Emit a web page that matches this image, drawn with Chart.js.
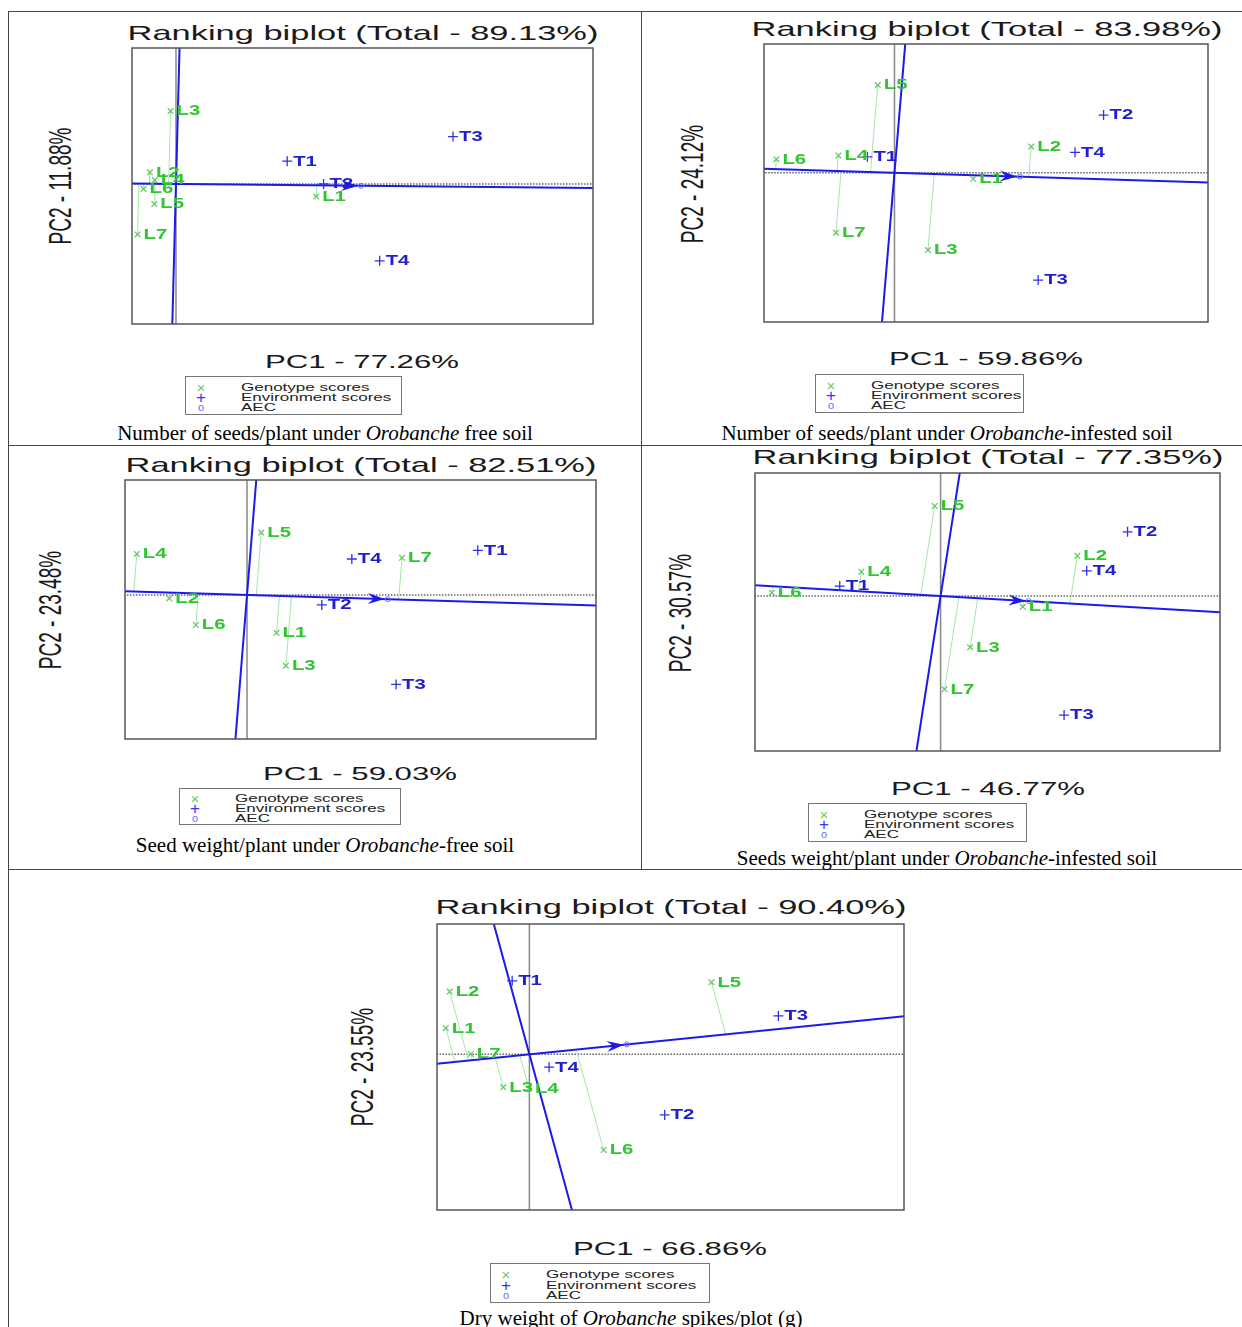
<!DOCTYPE html>
<html>
<head>
<meta charset="utf-8">
<title>Ranking biplots</title>
<script src="https://cdn.jsdelivr.net/npm/chart.js@4.4.1/dist/chart.umd.min.js"></script>
<style>
  html, body { margin: 0; padding: 0; background: #fff; }
  #stage { position: relative; width: 1242px; height: 1327px; overflow: hidden; background: #fff; }
  .rule { position: absolute; background: #444; }
  .gfx { position: absolute; white-space: nowrap; line-height: 1; color: #1a1a1a;
         font-family: "Liberation Sans", Arial, Helvetica, sans-serif; }
  .cap { position: absolute; white-space: nowrap; line-height: 1; color: #000;
         font-family: "Liberation Serif", "Times New Roman", serif; font-size: 21px;
         transform: translate(-50%, -50%); }
  .legend { position: absolute; border: 1px solid #777; background: #fff; box-sizing: border-box; }
  .legend span { position: absolute; white-space: nowrap; line-height: 1;
         font-family: "Liberation Sans", Arial, sans-serif; }
  canvas { position: absolute; }
</style>
</head>
<body>
<div id="stage"></div>
<script>
const genotypes = ['L1', 'L2', 'L3', 'L4', 'L5', 'L6', 'L7'];
const environments = ['T1', 'T2', 'T3', 'T4'];

// number of seeds/plant, Orobanche free soil
const seedsFreeGenX = [2.85, -0.53, -0.11, -0.43, -0.44, -0.66, -0.78];
const seedsFreeGenY = [-0.42, 0.39, 2.43, 0.13, -0.67, -0.17, -1.68];
const seedsFreeEnvX = [2.26, 3.00, 5.63, 4.14];
const seedsFreeEnvY = [0.76, 0.00, 1.58, -2.56];
const seedsFreeAec = [3.76, -0.06];

// number of seeds/plant, Orobanche-infested soil
const seedsInfGenX = [1.60, 2.78, 0.68, -1.14, -0.34, -2.40, -1.19];
const seedsInfGenY = [-0.21, 0.87, -2.58, 0.57, 2.92, 0.45, -2.00];
const seedsInfEnvX = [-0.55, 4.25, 2.92, 3.67];
const seedsInfEnvY = [0.53, 1.92, -3.58, 0.68];
const seedsInfAec = [2.55, -0.13];

// seed weight/plant, Orobanche-free soil
const weightFreeGenX = [0.60, -1.58, 0.79, -2.24, 0.29, -1.04, 3.15];
const weightFreeGenY = [-1.26, -0.11, -2.36, 1.37, 2.08, -1.00, 1.24];
const weightFreeEnvX = [4.69, 1.52, 3.03, 2.13];
const weightFreeEnvY = [1.49, -0.33, -2.98, 1.20];
const weightFreeAec = [2.86, -0.14];

// seeds weight/plant, Orobanche-infested soil
const weightInfGenX = [1.67, 2.78, 0.60, -1.61, -0.12, -3.43, 0.08];
const weightInfGenY = [-0.36, 1.34, -1.71, 0.81, 3.00, 0.11, -3.11];
const weightInfEnvX = [-2.05, 3.80, 2.51, 2.97];
const weightInfEnvY = [0.33, 2.14, -3.97, 0.84];
const weightInfAec = [1.79, -0.17];

// dry weight of Orobanche spikes/plot
const spikesGenX = [-1.70, -1.62, -0.53, -0.01, 3.70, 1.51, -1.19];
const spikesGenY = [0.87, 2.09, -1.10, -1.13, 2.40, -3.19, 0.01];
const spikesEnvX = [-0.35, 2.75, 5.06, 0.40];
const spikesEnvY = [2.45, -2.02, 1.28, -0.43];
const spikesAec = [1.98, 0.33];

const legendItems = ['Genotype scores', 'Environment scores', 'AEC'];

const panels = [
    {
        title: 'Ranking biplot (Total - 89.13%)', xTitle: 'PC1 - 77.26%', yTitle: 'PC2 - 11.88%',
        caption: 'Number of seeds/plant under <i>Orobanche</i> free soil',
        genX: seedsFreeGenX, genY: seedsFreeGenY, envX: seedsFreeEnvX, envY: seedsFreeEnvY, aec: seedsFreeAec,
        xRange: [-0.894, 8.476], yRange: [-4.667, 4.533],
        box: [132, 48, 461, 276], titleAt: [363, 32], xTitleAt: [362, 361], yTitleAt: [59.5, 186],
        legend: [185, 376, 217, 39], captionAt: [325, 433]
    },
    {
        title: 'Ranking biplot (Total - 83.98%)', xTitle: 'PC1 - 59.86%', yTitle: 'PC2 - 24.12%',
        caption: 'Number of seeds/plant under <i>Orobanche</i>-infested soil',
        genX: seedsInfGenX, genY: seedsInfGenY, envX: seedsInfEnvX, envY: seedsInfEnvY, aec: seedsInfAec,
        xRange: [-2.652, 6.372], yRange: [-4.977, 4.29],
        box: [764, 44, 444, 278], titleAt: [987, 28], xTitleAt: [986, 358], yTitleAt: [692, 184],
        legend: [815, 374, 209, 39], captionAt: [947, 433]
    },
    {
        title: 'Ranking biplot (Total - 82.51%)', xTitle: 'PC1 - 59.03%', yTitle: 'PC2 - 23.48%',
        caption: 'Seed weight/plant under <i>Orobanche</i>-free soil',
        genX: weightFreeGenX, genY: weightFreeGenY, envX: weightFreeEnvX, envY: weightFreeEnvY, aec: weightFreeAec,
        xRange: [-2.48, 7.093], yRange: [-4.8, 3.833],
        box: [125, 480, 471, 259], titleAt: [361, 464], xTitleAt: [360, 773], yTitleAt: [50, 610],
        legend: [179, 788, 222, 37], captionAt: [325, 845]
    },
    {
        title: 'Ranking biplot (Total - 77.35%)', xTitle: 'PC1 - 46.77%', yTitle: 'PC2 - 30.57%',
        caption: 'Seeds weight/plant under <i>Orobanche</i>-infested soil',
        genX: weightInfGenX, genY: weightInfGenY, envX: weightInfEnvX, envY: weightInfEnvY, aec: weightInfAec,
        xRange: [-3.772, 5.679], yRange: [-5.167, 4.1],
        box: [755, 473, 465, 278], titleAt: [988, 456], xTitleAt: [988, 788], yTitleAt: [679.5, 612.5],
        legend: [808, 803, 219, 39], captionAt: [947, 858]
    },
    {
        title: 'Ranking biplot (Total - 90.40%)', xTitle: 'PC1 - 66.86%', yTitle: 'PC2 - 23.55%',
        caption: 'Dry weight of <i>Orobanche</i> spikes/plot (g)',
        genX: spikesGenX, genY: spikesGenY, envX: spikesEnvX, envY: spikesEnvY, aec: spikesAec,
        xRange: [-1.878, 7.614], yRange: [-5.19, 4.343],
        box: [437, 924, 467, 286], titleAt: [671, 906], xTitleAt: [670, 1247.5], yTitleAt: [361.5, 1067],
        legend: [490, 1263, 220, 40], captionAt: [631, 1318]
    }
];

const stage = document.getElementById('stage');

function rule(x, y, w, h) {
    const d = document.createElement('div');
    d.className = 'rule';
    d.style.cssText = `left:${x}px;top:${y}px;width:${w}px;height:${h}px`;
    stage.appendChild(d);
}
// table frame round the five figures
rule(8, 11, 1234, 1);
rule(8, 11, 1, 1316);
rule(641, 11, 1, 858);
rule(8, 445, 1234, 1);
rule(8, 869, 1234, 1);

function text(str, at, size, transform) {
    const d = document.createElement('div');
    d.className = 'gfx';
    d.textContent = str;
    d.style.left = at[0] + 'px';
    d.style.top = at[1] + 'px';
    d.style.fontSize = size + 'px';
    d.style.transform = transform;
    stage.appendChild(d);
}

// arrow head, labels and frame on top of the datasets
const biplotPlugin = {
    id: 'biplot',
    afterDatasetsDraw(chart) {
        const ctx = chart.ctx;
        const area = chart.chartArea;
        const xs = chart.scales.x, ys = chart.scales.y;
        const aec = chart.options.plugins.biplot.aec;

        const ox = xs.getPixelForValue(0), oy = ys.getPixelForValue(0);
        const ax = xs.getPixelForValue(aec[0]), ay = ys.getPixelForValue(aec[1]);
        let dx = ax - ox, dy = ay - oy;
        const len = Math.hypot(dx, dy);
        dx /= len; dy /= len;
        const nx = -dy, ny = dx;
        const tx = ax - 3 * dx, ty = ay - 3 * dy;
        ctx.save();
        ctx.fillStyle = '#1a1aee';
        ctx.beginPath();
        ctx.moveTo(tx, ty);
        ctx.lineTo(tx - 17 * dx + 5.5 * nx, ty - 17 * dy + 5.5 * ny);
        ctx.lineTo(tx - 11 * dx, ty - 11 * dy);
        ctx.lineTo(tx - 17 * dx - 5.5 * nx, ty - 17 * dy - 5.5 * ny);
        ctx.closePath();
        ctx.fill();
        ctx.restore();

        chart.data.datasets.forEach((ds, i) => {
            if (!ds.pointNames) return;
            const meta = chart.getDatasetMeta(i);
            ctx.save();
            ctx.font = 'bold 14px "Liberation Sans", Arial, sans-serif';
            ctx.textBaseline = 'middle';
            ctx.textAlign = 'left';
            ctx.fillStyle = ds.labelColor;
            meta.data.forEach((pt, j) => {
                ctx.save();
                ctx.translate(pt.x + 6, pt.y + 0.5);
                ctx.scale(1.45, 1);
                ctx.fillText(ds.pointNames[j], 0, 0);
                ctx.restore();
            });
            ctx.restore();
        });

        ctx.save();
        ctx.strokeStyle = '#555';
        ctx.lineWidth = 1.5;
        ctx.strokeRect(area.left, area.top, area.right - area.left, area.bottom - area.top);
        ctx.restore();
    }
};

function makePanel(p) {
    text(p.title, p.titleAt, 21, 'translate(-50%,-50%) scaleX(1.64)');
    text(p.xTitle, p.xTitleAt, 19, 'translate(-50%,-50%) scaleX(1.64)');
    text(p.yTitle, p.yTitleAt, 19, 'translate(-50%,-50%) rotate(-90deg) scaleY(1.64)');

    const lg = document.createElement('div');
    lg.className = 'legend';
    lg.style.cssText = `left:${p.legend[0]}px;top:${p.legend[1]}px;width:${p.legend[2]}px;height:${p.legend[3]}px`;
    const rowH = (p.legend[3] - 8) / 3;
    const marks = [['\u00d7', '#66cc66', 15], ['+', '#3333ff', 17], ['o', '#6b6bff', 11]];
    legendItems.forEach((item, k) => {
        const cy = 4.5 + rowH * (k + 0.5);
        const m = document.createElement('span');
        m.textContent = marks[k][0];
        m.style.cssText = `left:15px;top:${cy}px;color:${marks[k][1]};font-size:${marks[k][2]}px;transform:translate(-50%,-50%)`;
        lg.appendChild(m);
        const t = document.createElement('span');
        t.textContent = item;
        t.style.cssText = `left:55px;top:${cy}px;color:#222;font-size:10.5px;transform-origin:left center;transform:translateY(-50%) scaleX(1.62)`;
        lg.appendChild(t);
    });
    stage.appendChild(lg);

    const cap = document.createElement('div');
    cap.className = 'cap';
    cap.innerHTML = p.caption;
    cap.style.left = p.captionAt[0] + 'px';
    cap.style.top = p.captionAt[1] + 'px';
    stage.appendChild(cap);

    const canvas = document.createElement('canvas');
    canvas.width = p.box[2] + 2;
    canvas.height = p.box[3] + 2;
    canvas.style.left = (p.box[0] - 1) + 'px';
    canvas.style.top = (p.box[1] - 1) + 'px';
    canvas.style.width = canvas.width + 'px';
    canvas.style.height = canvas.height + 'px';
    stage.appendChild(canvas);

    const gen = p.genX.map((x, i) => ({ x: x, y: p.genY[i] }));
    const env = p.envX.map((x, i) => ({ x: x, y: p.envY[i] }));
    const a = p.aec;
    const aa = a[0] * a[0] + a[1] * a[1];

    // genotype projections onto the AEC abscissa
    const projSets = gen.map(g => {
        const t = (g.x * a[0] + g.y * a[1]) / aa;
        return {
            data: [g, { x: t * a[0], y: t * a[1] }],
            showLine: true, borderColor: '#a6e6a6', borderWidth: 1, pointRadius: 0, order: 3
        };
    });

    const datasets = [
        { data: [{ x: -100, y: 0 }, { x: 100, y: 0 }], showLine: true, borderColor: '#666',
          borderWidth: 1.5, borderDash: [1.5, 1.5], pointRadius: 0, order: 4 },
        { data: [{ x: 0, y: -100 }, { x: 0, y: 100 }], showLine: true, borderColor: '#888',
          borderWidth: 1.5, pointRadius: 0, order: 4 },
        ...projSets,
        { data: [{ x: -20 * a[0], y: -20 * a[1] }, { x: 20 * a[0], y: 20 * a[1] }], showLine: true,
          borderColor: '#1a1aee', borderWidth: 2, pointRadius: 0, order: 2 },
        { data: [{ x: 20 * a[1], y: -20 * a[0] }, { x: -20 * a[1], y: 20 * a[0] }], showLine: true,
          borderColor: '#1a1aee', borderWidth: 2, pointRadius: 0, order: 2 },
        { data: gen, pointStyle: 'crossRot', pointRadius: 4, borderColor: '#5cc85c', borderWidth: 1.2,
          pointNames: genotypes, labelColor: '#33c433', order: 1 },
        { data: env, pointStyle: 'cross', pointRadius: 5, borderColor: '#3030ee', borderWidth: 1.3,
          pointNames: environments, labelColor: '#1f1fd0', order: 1 },
        { data: [{ x: a[0], y: a[1] }], pointStyle: 'circle', pointRadius: 2.5, borderColor: '#7070ff',
          backgroundColor: 'rgba(0,0,0,0)', borderWidth: 1, order: 0 }
    ];

    new Chart(canvas, {
        type: 'scatter',
        data: { datasets: datasets },
        options: {
            responsive: false,
            animation: false,
            events: [],
            layout: { padding: 1, autoPadding: false },
            scales: {
                x: { type: 'linear', min: p.xRange[0], max: p.xRange[1], display: false },
                y: { type: 'linear', min: p.yRange[0], max: p.yRange[1], display: false }
            },
            plugins: {
                legend: { display: false },
                tooltip: { enabled: false },
                biplot: { aec: p.aec }
            }
        },
        plugins: [biplotPlugin]
    });
}

document.addEventListener('DOMContentLoaded', function () {
    panels.forEach(makePanel);
});
</script>
</body>
</html>
